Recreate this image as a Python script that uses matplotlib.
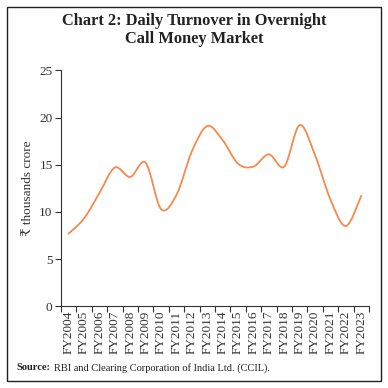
import matplotlib
matplotlib.use("Agg")
import matplotlib.pyplot as plt
from matplotlib.path import Path
from matplotlib.patches import PathPatch, Rectangle
import numpy as np

years = ["FY2004", "FY2005", "FY2006", "FY2007", "FY2008", "FY2009", "FY2010",
         "FY2011", "FY2012", "FY2013", "FY2014", "FY2015", "FY2016", "FY2017",
         "FY2018", "FY2019", "FY2020", "FY2021", "FY2022", "FY2023"]
turnover = [7.7, 9.3, 12.0, 14.7, 13.7, 15.2, 10.3, 11.8, 16.4, 19.1,
            17.6, 15.1, 14.8, 16.1, 14.8, 19.2, 16.0, 11.3, 8.5, 11.7]
yticks = [0, 5, 10, 15, 20, 25]

SERIF = ["Liberation Serif", "DejaVu Serif", "DejaVu Sans"]
plt.rcParams["font.family"] = SERIF

fig = plt.figure(figsize=(3.88, 3.88), dpi=100)
ax = fig.add_axes([0.157, 0.2106, 0.794, 0.6082])

x = np.arange(len(years), dtype=float)
y = np.array(turnover, dtype=float)

# smoothed line (Catmull-Rom style cubic Bezier through data points)
verts = [(x[0], y[0])]
codes = [Path.MOVETO]
n = len(x)
t = 1.0 / 6.0
for i in range(n - 1):
    p0 = (x[i - 1], y[i - 1]) if i > 0 else (x[i], y[i])
    p1 = (x[i], y[i])
    p2 = (x[i + 1], y[i + 1])
    p3 = (x[i + 2], y[i + 2]) if i + 2 < n else (x[i + 1], y[i + 1])
    c1 = (p1[0] + (p2[0] - p0[0]) * t, p1[1] + (p2[1] - p0[1]) * t)
    c2 = (p2[0] - (p3[0] - p1[0]) * t, p2[1] - (p3[1] - p1[1]) * t)
    verts += [c1, c2, p2]
    codes += [Path.CURVE4] * 3
ax.add_patch(PathPatch(Path(verts, codes), facecolor="none",
                       edgecolor="#F58A4B", lw=1.3, capstyle="round"))

ax.set_xlim(-0.5, len(years) - 0.5)
ax.set_ylim(0, 25)
ax.set_yticks(yticks)
ax.set_yticklabels([str(v) for v in yticks], fontsize=9.5, color="#333333")
ax.set_xticks(x)
ax.set_xticklabels(years, rotation=90, fontsize=9.5, color="#333333")
ax.set_xticks(np.arange(-0.5, len(years)), minor=True)
ax.tick_params(axis="x", which="major", length=0, pad=3)
ax.tick_params(axis="x", which="minor", length=4, width=0.8, color="#333333")
ax.tick_params(axis="y", length=4, width=0.8, color="#333333", pad=2)
for s in ["top", "right"]:
    ax.spines[s].set_visible(False)
for s in ["left", "bottom"]:
    ax.spines[s].set_linewidth(0.8)
    ax.spines[s].set_color("#333333")

ax.set_ylabel("₹ thousands crore", fontsize=9.5, color="#333333", labelpad=4)

fig.text(0.5, 0.922, "Chart 2: Daily Turnover in Overnight\nCall Money Market",
         ha="center", va="center", fontsize=11.8, fontweight="bold",
         color="#222222", linespacing=1.15)

fig.text(0.043, 0.052, "Source:", fontsize=7.5, fontweight="bold", color="#222222",
         ha="left", va="center")
fig.text(0.043 + 0.095, 0.052, "RBI and Clearing Corporation of India Ltd. (CCIL).",
         fontsize=7.5, color="#222222", ha="left", va="center")

fig.patches.append(Rectangle((7 / 388, 7 / 388), 374 / 388, 374 / 388,
                             transform=fig.transFigure, fill=False,
                             edgecolor="#222222", lw=1.0))

fig.savefig("out.png", dpi=100)
